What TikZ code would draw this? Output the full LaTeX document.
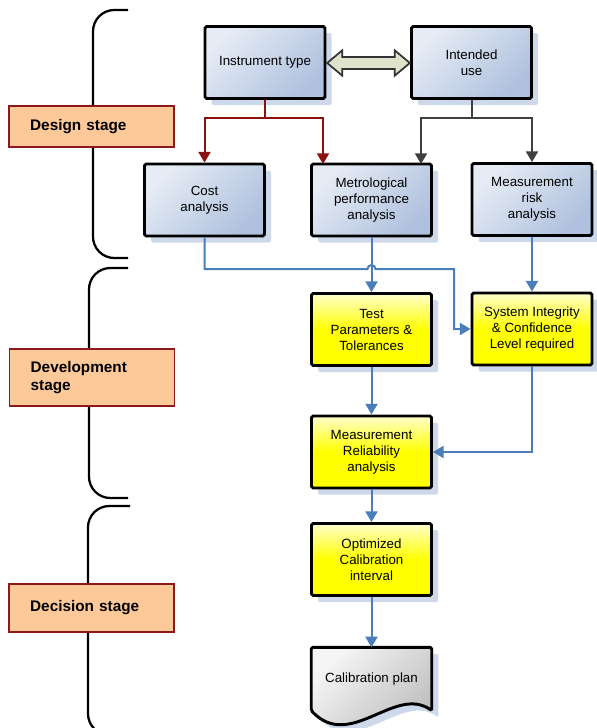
\documentclass[tikz,border=0pt]{standalone}
\usepackage{fontspec}
\setmainfont{Liberation Sans}
\usetikzlibrary{arrows.meta,shapes.arrows,shadows,backgrounds}

\definecolor{boxlight}{HTML}{E6ECF5}
\definecolor{boxdark}{HTML}{AFC1DE}
\definecolor{shadowblue}{HTML}{CDD8EB}
\definecolor{flowblue}{HTML}{4A7EBB}
\definecolor{darkred}{HTML}{8C1111}
\definecolor{stagefill}{HTML}{FDC998}
\definecolor{stageline}{HTML}{8C1A1A}
\definecolor{linkfill}{HTML}{DEE4CC}

\begin{document}
\begin{tikzpicture}[x=0.75pt,y=-0.75pt,font=\fontsize{10}{12}\selectfont,
  shadowed/.style={drop shadow={shadow xshift=5pt,shadow yshift=-5pt,fill=shadowblue,opacity=1}},
  procbox/.style={shadowed,draw=black,line width=2.2pt,rounded corners=1.2pt,
    minimum width=90pt,minimum height=54pt,align=center,
    top color=boxlight,bottom color=boxdark,shading angle=45},
  yelbox/.style={procbox,top color=yellow!20!white,bottom color=yellow,middle color=yellow},
  stage/.style={draw=stageline,line width=1pt,fill=stagefill,text width=92pt,inner xsep=15.8pt,
    align=left,font=\bfseries\fontsize{11.5}{13.5}\selectfont},
  brace/.style={line width=1.7pt,rounded corners=16pt},
  flow/.style={draw=flowblue,line width=1.5pt,-{Triangle[length=8pt,width=9pt]}},
  redflow/.style={flow,draw=darkred},
  grayflow/.style={flow,draw=black!75}]
\useasboundingbox (0,0) rectangle (596,728);

% stage brackets
\draw[brace] (128,10) -- (93,10) -- (93,258) -- (128,258);
\draw[brace] (128,268) -- (89,268) -- (89,498) -- (128,498);
\draw[brace] (130,506) -- (88,506) -- (88,735) -- (130,735);
\node[stage,minimum height=30.75pt] (design) at (91.5,126.5) {Design stage};
\node[stage,minimum height=42.75pt] (develop) at (92,377.5) {Development\\stage};
\node[stage,minimum height=36pt] (decide) at (91.5,608) {Decision stage};

% design boxes
\node[procbox] (inst) at (265,62.5) {Instrument type};
\node[procbox] (use) at (471.5,62.5) {Intended\\use};
\node[procbox] (cost) at (204.5,200) {Cost\\analysis};
\node[procbox] (metro) at (371.5,200) {Metrological\\performance\\analysis};
\node[procbox] (risk) at (532,199.5) {Measurement\\risk\\analysis};
\node[draw=black!80,line width=1.3pt,fill=linkfill,double arrow,double arrow head extend=5pt,
  double arrow tip angle=80,inner xsep=0pt,inner ysep=3.8pt,minimum height=62pt] (link) at (368.5,63) {};

% development and decision boxes
\node[yelbox] (test) at (371.5,329.5) {Test\\Parameters \&\\Tolerances};
\node[yelbox] (sys) at (532,329) {System Integrity\\\& Confidence\\Level required};
\node[yelbox] (mrel) at (371.5,452) {Measurement\\Reliability\\analysis};
\node[yelbox] (optim) at (371.5,559.5) {Optimized\\Calibration\\interval};
\node[minimum width=90pt,minimum height=47pt] (plan) at (371.5,679) {Calibration plan};
\begin{scope}[on background layer]
\path[shadowed,draw=black,line width=2.2pt,rounded corners=1.2pt,
  top color=gray!8,bottom color=gray!55,shading angle=45]
  (plan.north west) -- (plan.north east) -- (plan.south east)
  .. controls +(-37,-26) and +(39,41) .. (plan.south west) -- cycle;
\end{scope}

% connectors
\coordinate (isplit) at (265,118);
\coordinate (usplit) at (471.5,118);
\coordinate (metroa) at (323,164);
\coordinate (metrob) at (421,164);
\coordinate (hop) at (371.5,269);
\coordinate (jog) at (454,269);
\draw[redflow] (inst.south) -- (isplit) -| (cost.north);
\draw[redflow] (isplit) -| (metroa);
\draw[grayflow] (use.south) -- (usplit) -| (metrob);
\draw[grayflow] (usplit) -| (risk.north);
\draw[flow] (cost.south) |- ([xshift=-3pt]hop) arc[start angle=180,end angle=360,radius=4] -- (jog) |- (sys.west);
\draw[flow] (metro.south) -- (test.north);
\draw[flow] (risk.south) -- (sys.north);
\draw[flow] (test.south) -- (mrel.north);
\draw[flow] (sys.south) |- (mrel.east);
\draw[flow] (mrel.south) -- (optim.north);
\draw[flow] (optim.south) -- (plan.north);
\end{tikzpicture}
\end{document}
